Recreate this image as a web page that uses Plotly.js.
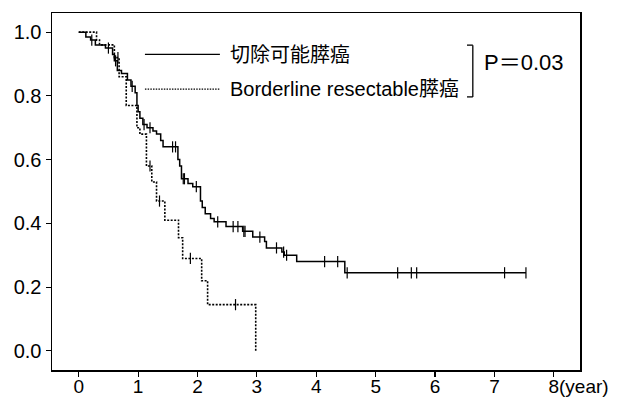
<!DOCTYPE html>
<html>
<head>
<meta charset="utf-8">
<script src="https://cdn.plot.ly/plotly-3.0.1.min.js"></script>
<style>
  html, body { margin: 0; padding: 0; background: #fff; }
  #chart { width: 624px; height: 398px; }
</style>
</head>
<body>
<div id="chart"></div>
<script>
// ---- Data ----
const seriesNames = ["切除可能膵癌", "Borderline resectable膵癌"];

// Resectable (solid) Kaplan-Meier steps: time (years) and survival
const resTimes = [0, 0.12, 0.2, 0.28, 0.45, 0.57, 0.6, 0.65, 0.72, 0.82, 0.88, 0.95, 0.98, 1.0, 1.03, 1.08, 1.15, 1.25, 1.31, 1.38, 1.42, 1.67, 1.7, 1.73, 1.84, 1.92, 2.05, 2.08, 2.13, 2.22, 2.28, 2.48, 2.76, 2.93, 3.13, 3.16, 3.42, 3.46, 3.67, 4.48, 7.53];
const resSurv  = [1.0, 0.985, 0.975, 0.96, 0.95, 0.93, 0.91, 0.88, 0.87, 0.85, 0.83, 0.81, 0.77, 0.75, 0.73, 0.71, 0.70, 0.69, 0.68, 0.66, 0.64, 0.60, 0.58, 0.54, 0.525, 0.515, 0.47, 0.45, 0.43, 0.415, 0.405, 0.39, 0.375, 0.357, 0.343, 0.323, 0.31, 0.30, 0.28, 0.245, 0.245];
const resCensor = [0.22, 0.5, 0.62, 0.9, 1.1, 1.2, 1.58, 1.63, 1.76, 1.78, 1.98, 2.34, 2.6, 2.68, 2.78, 2.8, 3.05, 3.33, 3.45, 3.5, 4.14, 4.36, 4.52, 5.37, 5.6, 5.69, 7.17, 7.53];

// Borderline resectable (dotted)
const bordTimes = [0, 0.30, 0.35, 0.6, 0.68, 0.8, 0.98, 1.03, 1.14, 1.23, 1.31, 1.45, 1.68, 1.75, 2.07, 2.17, 2.98];
const bordSurv  = [1.0, 0.975, 0.96, 0.92, 0.86, 0.77, 0.70, 0.68, 0.58, 0.53, 0.47, 0.41, 0.355, 0.29, 0.22, 0.145, 0.0];
const bordCensor = [0.66, 1.2, 1.36, 1.88, 2.64];

// Axis ticks
const xTickVals = [0, 1, 2, 3, 4, 5, 6, 7, 8];
const xTickText = ["0", "1", "2", "3", "4", "5", "6", "7", "8"];
const yTickVals = [0, 0.2, 0.4, 0.6, 0.8, 1.0];
const pValueText = "P＝0.03";
const xUnitText = "(year)";

// ---- Helpers ----
function survAt(times, surv, t) {
  let s = surv[0];
  for (let i = 0; i < times.length; i++) { if (times[i] <= t) s = surv[i]; }
  return s;
}

const FONT = "Liberation Sans, Arial, Noto Sans CJK JP, sans-serif";

const traces = [
  { x: resTimes, y: resSurv, mode: "lines", line: { shape: "hv", color: "#000", width: 1.5 }, name: seriesNames[0], hoverinfo: "skip" },
  { x: resCensor, y: resCensor.map(t => survAt(resTimes, resSurv, t)), mode: "markers",
    marker: { symbol: "line-ns-open", size: 8, color: "#000", line: { width: 1.2, color: "#000" } }, hoverinfo: "skip" },
  { x: bordTimes, y: bordSurv, mode: "lines", line: { shape: "hv", color: "#000", width: 1.6, dash: "2px,1.5px" }, name: seriesNames[1], hoverinfo: "skip" },
  { x: bordCensor, y: bordCensor.map(t => survAt(bordTimes, bordSurv, t)), mode: "markers",
    marker: { symbol: "line-ns-open", size: 8, color: "#000", line: { width: 1.2, color: "#000" } }, hoverinfo: "skip" }
];

const axisCommon = {
  showgrid: false, zeroline: false, showline: true, mirror: true,
  linecolor: "#000", linewidth: 1.5, ticks: "outside", ticklen: 5, tickwidth: 1.2, tickcolor: "#000"
};

const layout = {
  width: 624, height: 398,
  margin: { l: 52, r: 44, t: 13, b: 28, pad: 0 },
  paper_bgcolor: "#fff", plot_bgcolor: "#fff",
  showlegend: false,
  xaxis: Object.assign({}, axisCommon, { range: [-0.45, 8.44], tickvals: xTickVals, ticktext: xTickText,
    tickfont: { family: FONT, size: 19, color: "#000" }, ticklabelstandoff: -6 }),
  yaxis: Object.assign({}, axisCommon, { range: [-0.06, 1.06], tickvals: yTickVals, tickformat: ".1f",
    tickfont: { family: FONT, size: 20, color: "#000" } }),
  shapes: [
    // legend samples
    { type: "line", xref: "paper", yref: "paper", x0: 0.176, x1: 0.318, y0: 0.884, y1: 0.884, line: { color: "#000", width: 1.3 } },
    { type: "line", xref: "paper", yref: "paper", x0: 0.176, x1: 0.318, y0: 0.787, y1: 0.787, line: { color: "#000", width: 1.3, dash: "1.5px,1.2px" } },
    // bracket
    { type: "line", xref: "paper", yref: "paper", x0: 0.797, x1: 0.797, y0: 0.765, y1: 0.910, line: { color: "#000", width: 1.3 } },
    { type: "line", xref: "paper", yref: "paper", x0: 0.786, x1: 0.797, y0: 0.910, y1: 0.910, line: { color: "#000", width: 1.3 } },
    { type: "line", xref: "paper", yref: "paper", x0: 0.786, x1: 0.797, y0: 0.765, y1: 0.765, line: { color: "#000", width: 1.3 } }
  ],
  annotations: [
    { xref: "paper", yref: "paper", x: 0.333, y: 0.882, xanchor: "left", yanchor: "middle", showarrow: false,
      text: seriesNames[0], font: { family: FONT, size: 20, color: "#000" } },
    { xref: "paper", yref: "paper", x: 0.333, y: 0.787, xanchor: "left", yanchor: "middle", showarrow: false,
      text: seriesNames[1], font: { family: FONT, size: 20, color: "#000" } },
    { xref: "paper", yref: "paper", x: 0.814, y: 0.862, xanchor: "left", yanchor: "middle", showarrow: false,
      text: pValueText, font: { family: FONT, size: 22, color: "#000" } },
    { xref: "x", yref: "paper", x: 8, y: 0, xanchor: "left", yanchor: "top", xshift: 3, yshift: -4, showarrow: false,
      text: xUnitText, font: { family: FONT, size: 19, color: "#000" } }
  ]
};

Plotly.newPlot("chart", traces, layout, { staticPlot: true, displayModeBar: false });
</script>
</body>
</html>
